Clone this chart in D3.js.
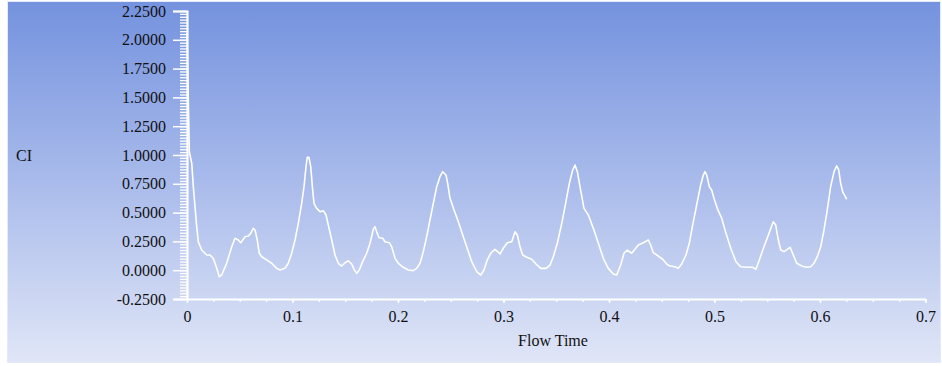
<!DOCTYPE html>
<html>
<head>
<meta charset="utf-8">
<script src="https://cdn.jsdelivr.net/npm/d3@7"></script>
<style>
  body { margin: 0; background: #ffffff; }
  text { font-family: "Liberation Serif", "Times New Roman", serif; fill: #111111; }
</style>
</head>
<body>
<script>
//variables
var width = 942;
var height = 366;

//flow time values (s)
var flowTime = [0, 0.0022, 0.0045, 0.006, 0.0076, 0.0092, 0.0107, 0.0139, 0.0187, 0.0218,
  0.0249, 0.0282, 0.0306, 0.0329, 0.0376, 0.0424, 0.0455, 0.0486, 0.0509, 0.0528,
  0.055, 0.0581, 0.0604, 0.0628, 0.0645, 0.0666, 0.0685, 0.0708, 0.0755, 0.0803,
  0.085, 0.0882, 0.0929, 0.096, 0.0992, 0.1024, 0.1055, 0.1087, 0.1109, 0.1128,
  0.114, 0.1156, 0.1173, 0.1191, 0.1204, 0.1229, 0.1261, 0.1292, 0.1318, 0.1339,
  0.1372, 0.1403, 0.1434, 0.1466, 0.1498, 0.1529, 0.1561, 0.1586, 0.1609, 0.1633,
  0.1665, 0.1703, 0.1735, 0.1766, 0.1782, 0.1798, 0.182, 0.1855, 0.1877, 0.1918,
  0.194, 0.1972, 0.2003, 0.205, 0.2098, 0.2145, 0.2177, 0.2209, 0.224, 0.2272,
  0.2303, 0.2335, 0.2367, 0.2398, 0.2424, 0.2455, 0.2471, 0.2493, 0.2531, 0.2572,
  0.2619, 0.2651, 0.2699, 0.2746, 0.2784, 0.2815, 0.2846, 0.2879, 0.2919, 0.2967,
  0.2998, 0.3036, 0.3078, 0.3109, 0.3131, 0.3156, 0.3182, 0.322, 0.3267, 0.3308,
  0.3353, 0.3403, 0.3441, 0.3472, 0.351, 0.3552, 0.3592, 0.3624, 0.3656, 0.3678,
  0.37, 0.3725, 0.3763, 0.3804, 0.3851, 0.3899, 0.3946, 0.3993, 0.4041, 0.4073,
  0.4111, 0.4142, 0.4174, 0.4215, 0.4246, 0.4278, 0.4325, 0.4373, 0.4395, 0.442,
  0.4467, 0.4509, 0.4547, 0.4578, 0.4626, 0.4657, 0.4689, 0.473, 0.4761, 0.4793,
  0.4831, 0.4869, 0.4894, 0.491, 0.4926, 0.4951, 0.4973, 0.4995, 0.5026, 0.5068,
  0.5109, 0.5154, 0.5204, 0.5248, 0.5305, 0.5362, 0.5393, 0.5425, 0.5469, 0.5519,
  0.5557, 0.558, 0.5605, 0.5628, 0.5659, 0.569, 0.5716, 0.5747, 0.5779, 0.5827,
  0.5874, 0.5912, 0.5943, 0.5974, 0.6007, 0.6038, 0.6069, 0.6101, 0.6133, 0.6158,
  0.6177, 0.6196, 0.6215, 0.6237, 0.6253];

//CI values matching flowTime
var ciValues = [2.059, 1.03, 0.928, 0.725, 0.551, 0.378, 0.247, 0.175, 0.132, 0.132,
  0.103, 0.016, -0.056, -0.042, 0.06, 0.204, 0.277, 0.262, 0.239, 0.262,
  0.291, 0.297, 0.32, 0.364, 0.349, 0.262, 0.147, 0.117, 0.089, 0.06,
  0.016, 0.002, 0.016, 0.06, 0.147, 0.262, 0.407, 0.581, 0.725, 0.898,
  0.98, 0.98, 0.898, 0.696, 0.581, 0.537, 0.508, 0.517, 0.479, 0.392,
  0.262, 0.132, 0.06, 0.036, 0.065, 0.082, 0.054, 0.002, -0.027, 0.002,
  0.074, 0.147, 0.234, 0.355, 0.378, 0.334, 0.282, 0.277, 0.247, 0.239,
  0.204, 0.103, 0.06, 0.025, 0.002, -0.004, 0.016, 0.06, 0.161, 0.291,
  0.436, 0.581, 0.725, 0.812, 0.855, 0.826, 0.754, 0.624, 0.523, 0.421,
  0.291, 0.204, 0.074, -0.013, -0.042, 0.002, 0.089, 0.147, 0.181, 0.141,
  0.19, 0.239, 0.247, 0.334, 0.306, 0.204, 0.132, 0.112, 0.095, 0.054,
  0.016, 0.016, 0.045, 0.117, 0.234, 0.407, 0.595, 0.754, 0.87, 0.913,
  0.855, 0.725, 0.537, 0.479, 0.364, 0.234, 0.103, 0.016, -0.033, -0.042,
  0.045, 0.147, 0.175, 0.147, 0.181, 0.219, 0.239, 0.262, 0.219, 0.152,
  0.123, 0.095, 0.054, 0.036, 0.03, 0.016, 0.054, 0.132, 0.234, 0.392,
  0.566, 0.74, 0.826, 0.855, 0.826, 0.725, 0.696, 0.624, 0.537, 0.451,
  0.32, 0.19, 0.074, 0.03, 0.025, 0.025, 0.008, 0.089, 0.204, 0.326,
  0.421, 0.392, 0.262, 0.175, 0.161, 0.181, 0.199, 0.132, 0.06, 0.036,
  0.025, 0.03, 0.06, 0.117, 0.204, 0.349, 0.523, 0.725, 0.855, 0.905,
  0.87, 0.754, 0.681, 0.644, 0.615];

//tick values
var xTicks = [0, 0.1, 0.2, 0.3, 0.4, 0.5, 0.6, 0.7];
var yTicks = [-0.25, 0, 0.25, 0.5, 0.75, 1.0, 1.25, 1.5, 1.75, 2.0, 2.25];

//axis titles
var xTitle = "Flow Time";
var yTitle = "CI";

//create canvas
var canvas = d3.select("body").append("svg")
            .attr("width", width)
            .attr("height", height);

//background gradient
var grad = canvas.append("defs").append("linearGradient")
            .attr("id", "bg")
            .attr("x1", 0).attr("y1", 0)
            .attr("x2", 0).attr("y2", 1);
grad.append("stop").attr("offset", "0%").attr("stop-color", "#7492de");
grad.append("stop").attr("offset", "50%").attr("stop-color", "#a9bbeb");
grad.append("stop").attr("offset", "100%").attr("stop-color", "#e0e6f7");

canvas.append("rect")
            .attr("x", 7.5)
            .attr("y", 1.5)
            .attr("width", 933)
            .attr("height", 361)
            .attr("fill", "url(#bg)")
            .attr("stroke", "#e4eaf9")
            .attr("stroke-width", 1);

//scales
var x = d3.scaleLinear().domain([0, 0.7]).range([187, 925.5]);
var y = d3.scaleLinear().domain([-0.25, 2.25]).range([299, 11]);

//minor ticks every 0.025
var xMinor = d3.range(0, 0.7001, 0.025);
var yMinor = d3.range(-0.25, 2.2501, 0.025);

//4 decimals, plain hyphen for the minus sign like the original
var fmt4 = function (d) { return d3.format(".4f")(d).replace("\u2212", "-"); };

//y axis: minor ticks, then major ticks with labels
canvas.append("g")
            .attr("transform", "translate(187,0)")
            .call(d3.axisLeft(y).tickValues(yMinor).tickSize(7).tickFormat(""))
            .call(function (g) { g.select(".domain").remove(); })
            .selectAll("line").attr("stroke", "#ffffff").attr("stroke-width", 1.3);

var yAxis = canvas.append("g")
            .attr("transform", "translate(187,0)")
            .call(d3.axisLeft(y).tickValues(yTicks).tickSize(14).tickPadding(7).tickFormat(fmt4));
yAxis.select(".domain").attr("stroke", "#ffffff").attr("stroke-width", 2.2);
yAxis.selectAll("line").attr("stroke", "#ffffff").attr("stroke-width", 1.5);
yAxis.selectAll("text").attr("font-size", 16).attr("font-family", "Liberation Serif").attr("fill", "#111");

//x axis
canvas.append("g")
            .attr("transform", "translate(0,299)")
            .call(d3.axisBottom(x).tickValues(xMinor).tickSize(3).tickFormat(""))
            .call(function (g) { g.select(".domain").remove(); })
            .selectAll("line").attr("stroke", "#ffffff").attr("stroke-width", 1.3);

var xAxis = canvas.append("g")
            .attr("transform", "translate(0,299)")
            .call(d3.axisBottom(x).tickValues(xTicks).tickSizeInner(4).tickSizeOuter(0).tickPadding(8).tickFormat(d3.format("")));
xAxis.select(".domain").attr("stroke", "#ffffff").attr("stroke-width", 2.2);
xAxis.selectAll("line").attr("stroke", "#ffffff").attr("stroke-width", 1.5);
xAxis.selectAll("text").attr("font-size", 16).attr("font-family", "Liberation Serif").attr("fill", "#111");

//axis titles
canvas.append("text")
            .attr("x", 553)
            .attr("y", 346)
            .attr("text-anchor", "middle")
            .attr("font-size", 16)
            .text(xTitle);

canvas.append("text")
            .attr("x", 16)
            .attr("y", 161)
            .attr("font-size", 16)
            .text(yTitle);

//line
var points = flowTime.map(function (t, i) { return [t, ciValues[i]]; });

var line = d3.line()
            .x(function (d) { return x(d[0]); })
            .y(function (d) { return y(d[1]); });

canvas.append("path")
            .datum(points)
            .attr("d", line)
            .attr("fill", "none")
            .attr("stroke", "#ffffff")
            .attr("stroke-width", 1.6)
            .attr("stroke-linejoin", "round");
</script>
</body>
</html>
